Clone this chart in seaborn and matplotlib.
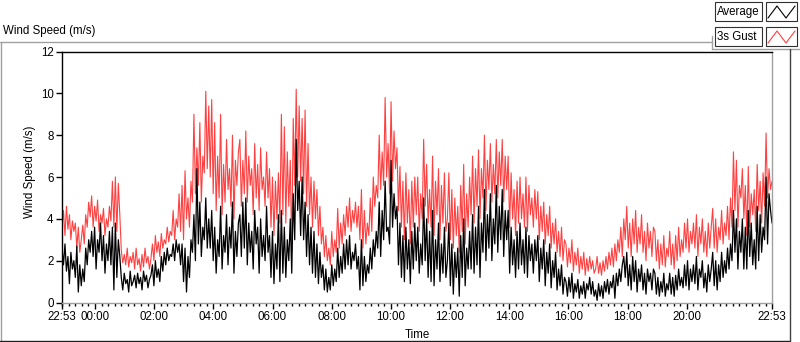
import pandas as pd
import numpy as np
import matplotlib.pyplot as plt
from matplotlib.patches import Rectangle
import seaborn as sns

# valores, passo de ~3 min, 20 pontos por hora (uma linha = 1 hora)
rajada_3s = [
    3.6, 4.4, 3.2, 4.6, 3.5, 4.2, 3.0, 3.9, 3.4, 3.8, 2.6, 3.6, 2.4, 3.0, 3.7, 2.8, 4.2, 3.6, 4.8, 4.1,
    5.1, 3.6, 4.6, 3.9, 4.9, 3.4, 4.2, 3.8, 4.5, 3.2, 4.0, 3.6, 4.6, 3.9, 5.8, 3.6, 6.0, 3.4, 5.7, 4.2,
    2.5, 1.9, 2.3, 1.8, 2.6, 1.7, 2.2, 1.9, 2.4, 1.6, 2.6, 1.8, 2.1, 1.5, 2.3, 1.7, 2.6, 1.9, 2.2, 1.6,
    2.1, 2.8, 2.0, 3.2, 2.4, 2.9, 2.2, 3.3, 2.6, 3.0, 2.8, 3.6, 2.9, 3.4, 3.2, 4.4, 3.0, 4.0, 3.6, 5.2,
    3.4, 5.6, 3.0, 6.3, 4.0, 5.0, 3.6, 5.8, 4.8, 9.0, 5.2, 7.4, 5.6, 8.6, 4.8, 7.0, 6.2, 10.1, 6.4, 9.4,
    6.0, 9.7, 5.2, 8.6, 4.4, 7.0, 5.0, 9.0, 4.2, 6.6, 4.8, 7.8, 5.4, 6.4, 4.6, 8.0, 4.0, 6.8, 5.6, 7.2,
    7.8, 4.6, 6.8, 5.2, 8.2, 4.8, 7.0, 5.6, 6.4, 4.2, 7.6, 5.0, 6.6, 4.4, 7.4, 5.4, 6.0, 4.6, 7.2, 5.0,
    6.4, 3.6, 6.0, 3.2, 5.8, 4.0, 6.2, 3.8, 9.0, 4.2, 8.4, 3.8, 7.2, 4.6, 6.8, 2.4, 8.8, 5.6, 10.2, 6.0,
    9.4, 5.8, 8.8, 5.2, 9.2, 4.6, 7.6, 4.2, 6.0, 3.6, 5.8, 4.0, 5.4, 3.2, 4.6, 2.8, 3.6, 2.2, 3.2, 2.0,
    2.6, 1.8, 3.4, 2.2, 3.0, 2.4, 4.5, 2.6, 3.8, 2.8, 4.2, 3.2, 4.6, 3.6, 5.0, 3.4, 4.4, 3.8, 4.8, 3.6,
    4.6, 3.0, 5.4, 2.6, 4.4, 2.8, 3.8, 3.2, 5.0, 3.4, 6.0, 4.6, 5.6, 5.0, 8.0, 5.4, 7.2, 5.6, 9.8, 6.0,
    7.6, 5.2, 9.6, 5.8, 8.2, 6.4, 7.4, 4.4, 6.5, 3.6, 5.8, 3.0, 6.2, 3.8, 5.4, 2.8, 5.8, 3.6, 6.0, 4.2,
    6.0, 3.4, 5.2, 4.0, 7.8, 4.6, 6.6, 3.8, 5.4, 3.6, 7.0, 3.2, 5.8, 4.2, 6.4, 3.0, 5.6, 3.8, 6.2, 3.4,
    4.0, 6.2, 3.0, 5.4, 2.6, 5.0, 3.2, 4.6, 2.4, 5.6, 3.4, 6.6, 2.8, 5.2, 3.6, 6.0, 4.2, 7.0, 3.8, 6.4,
    4.6, 7.3, 4.0, 6.4, 5.0, 8.0, 4.4, 6.8, 5.4, 7.6, 4.8, 6.6, 5.2, 7.8, 5.0, 7.2, 5.6, 7.8, 4.8, 7.0,
    5.4, 7.0, 3.6, 6.2, 4.0, 5.4, 3.2, 5.8, 3.8, 6.0, 4.0, 5.2, 3.6, 6.0, 3.4, 5.6, 4.2, 5.0, 3.6, 5.4,
    4.0, 5.3, 3.0, 4.6, 3.4, 4.8, 2.8, 4.2, 3.2, 4.6, 2.6, 3.8, 2.8, 4.0, 2.4, 3.4, 2.2, 3.6, 2.0, 3.0,
    2.8, 1.7, 2.6, 1.9, 3.0, 1.5, 2.4, 1.8, 2.6, 1.4, 2.2, 1.6, 2.4, 1.3, 2.1, 1.5, 2.2, 1.6, 2.0, 1.4,
    1.6, 2.2, 1.4, 1.9, 1.3, 2.0, 1.5, 2.2, 1.6, 2.4, 1.8, 2.6, 1.7, 2.8, 2.0, 3.0, 2.4, 3.6, 2.2, 4.0,
    3.0, 4.6, 2.6, 3.8, 2.2, 4.0, 2.8, 4.4, 2.4, 3.6, 2.8, 4.2, 2.4, 3.4, 2.0, 3.8, 2.6, 3.4, 2.2, 3.6,
    3.4, 2.0, 3.0, 1.6, 2.8, 1.8, 3.2, 1.7, 2.6, 2.2, 3.4, 1.8, 2.8, 1.6, 3.2, 2.0, 3.6, 2.2, 3.0, 2.4,
    3.8, 2.6, 4.0, 2.4, 3.4, 2.8, 3.8, 2.6, 4.2, 2.2, 3.6, 2.8, 4.0, 2.4, 3.4, 2.2, 3.8, 2.6, 3.6, 4.5,
    2.6, 4.0, 2.4, 3.6, 3.0, 4.4, 2.8, 3.8, 3.2, 4.6, 3.0, 5.0, 3.6, 7.2, 4.4, 6.8, 3.6, 5.6, 5.0, 6.4,
    4.0, 5.6, 3.2, 6.5, 3.6, 5.2, 4.2, 5.4, 3.4, 6.6, 4.4, 5.8, 3.8, 6.2, 4.6, 8.1, 5.0, 6.4, 5.4, 5.8,
]

media = [
    2.6, 1.8, 2.8, 1.5, 2.2, 0.9, 2.4, 1.6, 2.0, 1.2, 2.7, 0.5, 1.8, 0.8, 1.6, 1.0, 2.6, 1.8, 3.0, 2.4,
    3.4, 2.2, 3.6, 1.6, 3.0, 2.4, 3.8, 2.0, 3.2, 1.4, 2.8, 2.0, 3.4, 1.8, 3.6, 0.6, 3.8, 1.2, 3.0, 2.2,
    1.2, 0.6, 1.4, 0.9, 1.1, 0.5, 1.5, 0.8, 1.0, 1.3, 0.7, 1.4, 0.9, 1.2, 0.6, 1.5, 1.0, 1.3, 0.7, 1.1,
    1.3, 1.8, 0.8, 2.0, 1.2, 1.6, 1.0, 2.2, 1.5, 2.4, 1.8, 2.6, 2.0, 2.3, 2.2, 2.8, 2.0, 3.0, 2.4, 2.8,
    1.8, 2.8, 1.0, 2.6, 0.5, 2.2, 1.2, 3.0, 2.4, 4.2, 2.0, 6.4, 2.8, 4.8, 2.2, 3.6, 3.0, 5.0, 2.6, 4.0,
    2.6, 4.4, 2.0, 3.6, 1.4, 3.0, 2.2, 4.6, 1.6, 3.2, 2.4, 4.2, 1.8, 3.6, 2.6, 4.8, 1.4, 3.4, 2.2, 3.8,
    4.2, 2.2, 4.8, 2.6, 5.0, 1.8, 3.8, 2.4, 3.4, 1.6, 4.4, 2.8, 3.6, 1.4, 4.0, 2.2, 3.2, 2.0, 4.6, 2.4,
    3.2, 1.2, 3.4, 0.9, 2.8, 1.6, 4.2, 1.0, 4.4, 1.4, 3.6, 1.2, 3.0, 2.0, 4.0, 1.4, 5.2, 3.0, 7.8, 4.4,
    5.8, 3.2, 6.0, 3.0, 4.8, 2.2, 4.2, 1.8, 3.6, 1.4, 3.4, 1.2, 2.8, 0.9, 2.4, 1.2, 1.8, 0.6, 1.6, 0.5,
    1.2, 0.6, 1.8, 0.8, 1.6, 1.0, 2.6, 1.2, 2.2, 1.4, 2.8, 1.6, 3.0, 1.8, 3.2, 1.6, 2.4, 2.0, 2.8, 1.6,
    2.2, 0.6, 3.0, 0.8, 2.2, 1.0, 1.8, 1.4, 2.6, 1.6, 3.0, 2.2, 3.4, 2.6, 4.8, 2.2, 4.4, 3.0, 5.8, 3.4,
    3.6, 2.8, 6.8, 3.6, 5.2, 4.0, 4.6, 1.8, 3.8, 1.2, 3.2, 1.0, 3.6, 1.6, 3.0, 0.9, 3.4, 1.6, 3.8, 2.0,
    3.6, 1.4, 2.8, 1.8, 5.0, 2.0, 4.0, 1.2, 3.4, 1.0, 4.4, 0.8, 3.0, 1.6, 3.8, 1.0, 2.8, 1.4, 3.6, 1.2,
    2.0, 3.8, 0.8, 2.8, 0.4, 2.4, 1.2, 2.6, 0.3, 3.2, 1.2, 4.0, 0.8, 2.6, 1.6, 3.4, 1.6, 4.2, 1.4, 3.6,
    1.8, 4.6, 1.2, 3.8, 2.4, 5.4, 2.0, 4.2, 2.6, 5.2, 2.0, 4.0, 2.8, 5.6, 2.4, 4.6, 3.0, 5.4, 2.2, 4.4,
    3.0, 4.4, 1.4, 3.6, 1.8, 3.0, 1.2, 3.4, 1.6, 3.8, 1.8, 3.0, 1.4, 3.6, 1.2, 3.2, 2.0, 2.8, 1.4, 3.0,
    2.0, 3.2, 1.0, 2.6, 1.6, 3.0, 0.8, 2.4, 1.4, 2.8, 0.7, 2.0, 1.2, 2.4, 0.6, 1.6, 0.8, 1.8, 0.4, 1.2,
    1.0, 0.3, 1.2, 0.5, 1.4, 0.2, 0.9, 0.5, 1.1, 0.2, 0.8, 0.4, 1.0, 0.2, 0.9, 0.6, 1.2, 0.4, 1.0, 0.3,
    0.6, 0.1, 0.9, 0.3, 0.8, 0.2, 1.0, 0.5, 1.1, 0.4, 1.0, 0.7, 1.3, 0.2, 1.4, 0.8, 1.6, 1.0, 1.8, 2.2,
    1.2, 2.4, 0.8, 1.8, 0.6, 2.2, 1.0, 2.0, 0.5, 1.6, 1.0, 1.8, 0.6, 1.4, 0.4, 1.6, 1.0, 1.4, 0.6, 1.6,
    1.4, 0.4, 1.2, 0.3, 1.0, 0.5, 1.4, 0.3, 0.9, 0.6, 1.4, 0.4, 1.2, 0.3, 1.3, 0.6, 1.6, 0.8, 1.2, 0.7,
    1.8, 0.8, 2.0, 0.6, 1.6, 1.0, 1.8, 0.9, 2.2, 0.6, 1.6, 1.2, 2.0, 0.7, 1.4, 0.5, 1.8, 1.0, 1.6, 2.4,
    0.8, 2.0, 0.6, 1.8, 1.0, 2.4, 1.2, 2.0, 1.4, 2.6, 1.6, 2.8, 2.0, 4.4, 2.4, 4.0, 1.6, 3.4, 2.4, 4.0,
    1.6, 3.6, 1.6, 4.4, 2.2, 3.8, 1.8, 3.0, 1.6, 4.6, 2.0, 4.2, 2.4, 3.6, 3.0, 6.0, 2.8, 5.2, 4.4, 3.8,
]

inicio = pd.Timestamp('2020-01-01 22:53')
fim = pd.Timestamp('2020-01-02 22:53')
tempos = pd.date_range(inicio, fim, periods=len(media))

df = pd.DataFrame({'Time': tempos, 'Average': media, '3s Gust': rajada_3s})

vermelho = '#FF4040'
cinza_borda = '#A0A0A0'
fonte = 'Liberation Sans'

sns.set_theme(style="white")
plt.rcParams['font.family'] = [fonte, 'DejaVu Sans']

fig = plt.figure(figsize=(8, 3.42), dpi=100)
W, H = 800, 342

# camada de fundo em pixels para molduras e legenda
fundo = fig.add_axes([0, 0, 1, 1])
fundo.set_xlim(0, W)
fundo.set_ylim(H, 0)
fundo.axis('off')
fundo.plot([0, 712], [42, 42], color=cinza_borda, lw=1)
fundo.plot([0.5, 0.5], [42, H], color=cinza_borda, lw=1)
fundo.plot([712, 712], [36, 48.5], color=cinza_borda, lw=1)
fundo.plot([712, W], [48.5, 48.5], color=cinza_borda, lw=1)
fundo.plot([0, 790], [341, 341], color='#202020', lw=1)
fundo.plot([790, 790], [48.5, H], color='#404040', lw=1)

fundo.text(3, 31, 'Wind Speed (m/s)', fontsize=8.3, va='center', ha='left', color='black')

# legenda estilo LabVIEW
for y0, rotulo, cor in [(2, 'Average', 'black'), (27, '3s Gust', vermelho)]:
    fundo.add_patch(Rectangle((715, y0), 47, 19, fill=True, facecolor='white',
                              edgecolor='#303030', lw=0.8))
    fundo.add_patch(Rectangle((766, y0), 31, 19, fill=True, facecolor='white',
                              edgecolor='#303030', lw=0.8))
    fundo.text(717, y0 + 10, rotulo, fontsize=8.3, va='center', ha='left', color='black')
    fundo.plot([768, 777, 786, 795], [y0 + 16, y0 + 4, y0 + 16, y0 + 4], color=cor, lw=0.8)

# grafico principal
ax = fig.add_axes([62 / W, (H - 302.5) / H, (772 - 62) / W, (302.5 - 51.5) / H])
ax.set_facecolor('white')

sns.lineplot(ax=ax, data=df, x='Time', y='3s Gust', color=vermelho, linewidth=0.8, estimator=None)
sns.lineplot(ax=ax, data=df, x='Time', y='Average', color='black', linewidth=0.9, estimator=None)

ax.set_xlim(inicio, fim)
ax.set_ylim(0, 12)
ax.set_yticks(range(0, 13, 2))

meia_noite = pd.Timestamp('2020-01-02 00:00')
maiores = [inicio] + [meia_noite + pd.Timedelta(hours=2 * k) for k in range(11)] + [fim]
ax.set_xticks(maiores)
ax.set_xticklabels([t.strftime('%H:%M') for t in maiores])

passo = pd.Timedelta(seconds=800)
menores = []
t = meia_noite - passo
while t > inicio:
    menores.append(t)
    t -= passo
t = meia_noite + passo
while t < fim:
    if t not in maiores:
        menores.append(t)
    t += passo
ax.set_xticks(menores, minor=True)

ax.tick_params(axis='both', which='major', direction='out', length=4, width=1,
               color='black', labelsize=8.3, labelcolor='black', pad=2,
               bottom=True, left=True)
ax.tick_params(axis='x', which='minor', direction='out', length=2.5, width=1,
               color='black', bottom=True)

for lado, cor in [('top', 'black'), ('left', 'black'), ('right', cinza_borda), ('bottom', cinza_borda)]:
    ax.spines[lado].set_visible(True)
    ax.spines[lado].set_color(cor)
    ax.spines[lado].set_linewidth(1)

ax.set_xlabel('Time', fontsize=8.3, color='black')
ax.set_ylabel('Wind Speed (m/s)', fontsize=8.3, color='black')
ax.xaxis.set_label_coords(0.5, -0.105)
ax.yaxis.set_label_coords(-0.036, 0.52)
ax.grid(False)

fig.savefig('out.png', dpi=100)
